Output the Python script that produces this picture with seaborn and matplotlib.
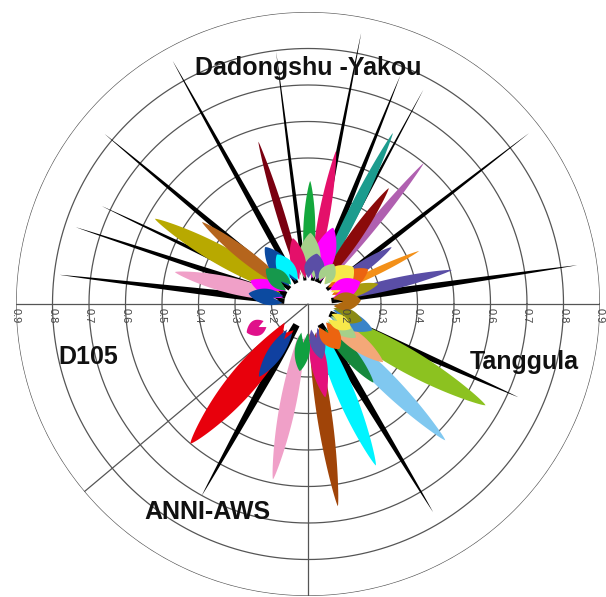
import numpy as np
import matplotlib
matplotlib.use("Agg")
import matplotlib.pyplot as plt
import seaborn as sns

sns.set_theme(style="white")
plt.rcParams['font.family'] = ['Liberation Sans', 'DejaVu Sans']

# ---------------- data ----------------
radial_ticks = [0.2, 0.3, 0.4, 0.5, 0.6, 0.7, 0.8, 0.9]
tick_labels = ["0.2", "0.3", "0.4", "0.5", "0.6", "0.7", "0.8", "0.9"]

station_names = ["Dadongshu -Yakou", "Tanggula", "D105", "ANNI-AWS"]

# black spikes: direction (deg), tip value, width (px)
spike_angle = [119.1, 140.1, 154.6, 161.7, 173.3, 97.2, 78.9, 68.0, 61.7, 37.7, 8.2, 336.1, 301.0, 241.0]
spike_tip = [0.862, 0.826, 0.725, 0.770, 0.785, 0.796, 0.856, 0.774, 0.766, 0.865, 0.845, 0.730, 0.765, 0.700]
spike_width = [6, 6, 5, 6, 7, 4, 5, 6, 4, 5, 7, 8, 8, 9]

# coloured petals
petal_angle = [63.6, 50.6, 55.1, 79.6, 89.0, 34.2, 25.5, 13.3, 71.8, 88.0, 80.0, 57.0, 39.0, 30.0, 23.0, 16.0, 4.0,
               107.0, 150.9, 142.3, 166.5, 127.0, 170.0, 158.0, 140.0, 122.0, 103.0,
               330.3, 315.2, 292.8, 278.4, 309.8, 322.3, 280.5, 284.0, 305.0, 325.0, 338.0, 343.0, 330.0,
               229.9, 236.0, 258.7, 263.0, 205.0]
petal_base = [0.18, 0.18, 0.18, 0.18, 0.18, 0.18, 0.18, 0.18, 0.17, 0.17, 0.17, 0.17, 0.17, 0.17, 0.17, 0.17, 0.17,
              0.18, 0.18, 0.18, 0.18, 0.17, 0.17, 0.17, 0.17, 0.17, 0.17,
              0.18, 0.18, 0.18, 0.18, 0.18, 0.18, 0.18, 0.17, 0.17, 0.17, 0.17, 0.17, 0.17,
              0.18, 0.19, 0.19, 0.18, 0.23]
petal_tip = [0.623, 0.600, 0.487, 0.526, 0.437, 0.377, 0.437, 0.505, 0.320, 0.295, 0.240, 0.230, 0.260, 0.290, 0.255, 0.300, 0.245,
             0.565, 0.580, 0.467, 0.475, 0.295, 0.265, 0.270, 0.250, 0.260, 0.285,
             0.660, 0.630, 0.580, 0.660, 0.380, 0.360, 0.360, 0.255, 0.250, 0.260, 0.290, 0.255, 0.235,
             0.600, 0.340, 0.590, 0.285, 0.285]
petal_width = [11, 9, 12, 11, 12, 11, 7, 11, 22, 22, 20, 16, 26, 20, 20, 12, 18,
               8, 19, 13, 16, 20, 16, 16, 18, 18, 15,
               24, 19, 18, 15, 14, 17, 16, 15, 20, 15, 18, 15, 15,
               28, 15, 16, 15, 16]
petal_color = ["#1c9c8e", "#b060b0", "#8b0a0a", "#e4106a", "#14a83c", "#5a4ea6", "#f39018", "#5a4ea6",
               "#ff00ff", "#a6d08a", "#5a4ea6", "#a6d08a", "#f7e84a", "#ec6410", "#ff00ff", "#a89c10", "#b06a10",
               "#7a0010", "#b8a900", "#b5651d", "#f0a0c8", "#0c4aa0", "#0c4aa0", "#ff00ff", "#16984c", "#00f4ff", "#e4106a",
               "#8cc220", "#80c8f0", "#00f4ff", "#a04408", "#16883c", "#f4a878", "#e4107a", "#5a4ea6", "#ec6410",
               "#a6d08a", "#3a84c8", "#8a8a14", "#f7e84a",
               "#e8000c", "#1040a0", "#f0a0c8", "#10a040", "#e0108a"]

# ---------------- layout ----------------
R0 = 0.1          # radial origin
PX = 365.0        # pixels per radial unit

fig = plt.figure(figsize=(6.06, 5.97), dpi=100)
ax = fig.add_axes([16 / 606, 1 / 597, 584 / 606, 584 / 597], projection="polar")
ax.set_theta_zero_location("E")
ax.set_theta_direction(1)
ax.set_ylim(R0, 0.9)
ax.grid(False)
ax.set_xticks([])
ax.set_yticks([])
ax.spines["polar"].set_visible(False)
ax.set_facecolor("white")

th = np.linspace(0, 2 * np.pi, 721)
for rv in radial_ticks:
    ax.plot(th, np.full_like(th, rv), color="#555555", lw=0.9, zorder=1)
for ang in [0, 180, 270, 220]:
    a = np.deg2rad(ang)
    ax.plot([a, a], [R0, 0.9], color="#555555", lw=0.9, zorder=1)


def petal_shape(angle, base, tip, width, kind):
    th0 = np.deg2rad(angle)
    rho0 = base - R0
    L = tip - base
    hw = width / 2.0 / PX
    t = np.linspace(0, 1, 120)
    if kind == "spike":
        f = (1 - t) ** 0.8 * (0.6 + 0.4 * np.sin(np.pi / 2 * np.clip(t / 0.3, 0, 1)))
        f = f / f.max()
        notch = 0.0
    else:
        f = np.sin(np.pi * (0.1 + 0.9 * t)) ** 0.75
        f = f / f.max()
        notch = min(0.35 * L, 10 / PX)
    u = rho0 + t * L
    v = hw * f
    nb = np.linspace(0, 1, 21)
    uu = np.concatenate([u, u[::-1], rho0 + notch * (1 - np.abs(1 - 2 * nb))])
    vv = np.concatenate([v, -v[::-1], -v[0] + (2 * v[0]) * nb])
    x = uu * np.cos(th0) - vv * np.sin(th0)
    y = uu * np.sin(th0) + vv * np.cos(th0)
    return np.arctan2(y, x), np.hypot(x, y) + R0


items = []
for a, tp, w in zip(spike_angle, spike_tip, spike_width):
    items.append((tp, a, 0.165, w, "#000000", "spike"))
for a, b, tp, w, c in zip(petal_angle, petal_base, petal_tip, petal_width, petal_color):
    items.append((tp, a, b, w, c, "petal"))
items.sort(key=lambda it: -it[0])
for z, (tp, a, b, w, c, kind) in enumerate(items):
    tt, rr = petal_shape(a, b, tp, w, kind)
    ax.fill(tt, rr, color=c, lw=0, zorder=2 + z * 0.01)

for rv, lab in zip(radial_ticks, tick_labels):
    for ang in [0, np.pi]:
        ax.annotate(lab, xy=(ang, rv), xytext=(0, -3), textcoords="offset points",
                    ha="center", va="top", rotation=270, fontsize=8, color="#444444",
                    annotation_clip=False, zorder=6)

label_pos = [(0.508, 0.886), (0.865, 0.394), (0.145, 0.402), (0.342, 0.142)]
for name, (fx, fy) in zip(station_names, label_pos):
    fig.text(fx, fy, name, ha="center", va="center", fontsize=18, fontweight="bold",
             color="#111111", zorder=10)

fig.savefig("out.png", dpi=100, facecolor="white")
